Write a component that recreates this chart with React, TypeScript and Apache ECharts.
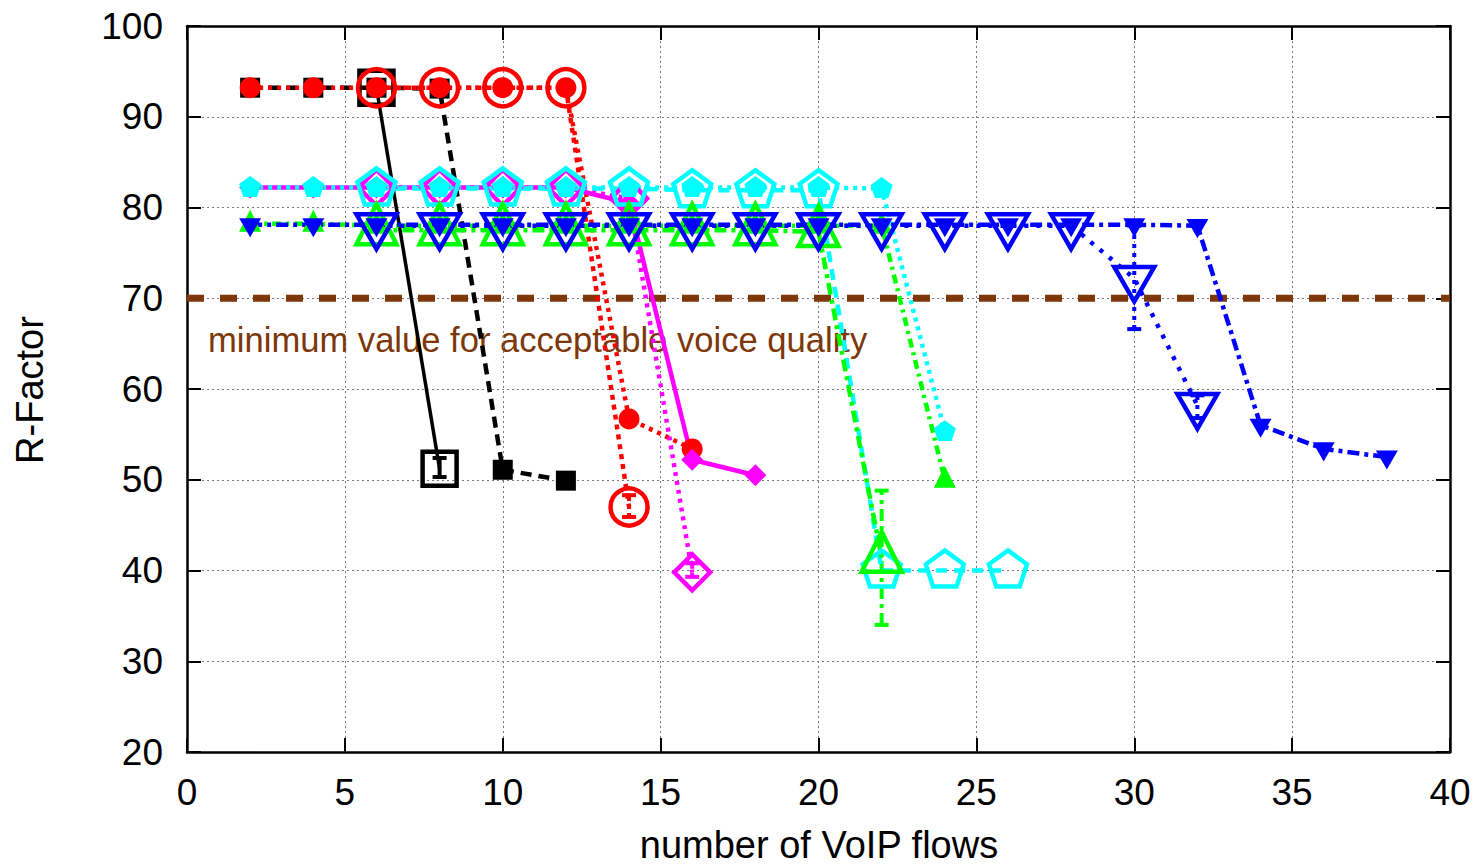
import React, { useEffect, useRef } from 'react';
import * as echarts from 'echarts';

// ---- data ----
const xMin = 0, xMax = 40, xStep = 5;
const yMin = 20, yMax = 100, yStep = 10;
const threshold = 70;
const thresholdLabel = 'minimum value for acceptable voice quality';
const xName = 'number of VoIP flows';
const yName = 'R-Factor';

const blackFilled = [[2, 93.2], [4, 93.2], [6, 93.2], [8, 93.1], [10, 51.1], [12, 49.9]];
const blackOpen = [[6, 93.2], [8, 51.2]];
const blackErr = [[8, 50.3, 52.4]];

const redFilled = [[2, 93.2], [4, 93.2], [6, 93.2], [8, 93.2], [10, 93.2], [12, 93.2], [14, 56.7], [16, 53.4]];
const redOpen = [[6, 93.2], [8, 93.2], [10, 93.2], [12, 93.2], [14, 47.0]];
const redErr = [[14, 45.9, 48.3]];

const magentaFilled = [[2, 82.2], [4, 82.2], [6, 82.2], [8, 82.2], [10, 82.2], [12, 82.2], [14, 80.5], [16, 52.2], [18, 50.5]];
const magentaOpen = [[6, 82.2], [8, 82.2], [10, 82.2], [12, 82.2], [14, 81.0], [16, 39.8]];
const magentaErr = [[16, 39.3, 40.8]];

const cyanFilled = [[2, 82.2], [4, 82.2], [6, 82.2], [8, 82.2], [10, 82.2], [12, 82.2], [14, 82.2], [16, 82.2], [18, 82.2], [20, 82.2], [22, 82.1], [24, 55.3]];
const cyanOpen = [[6, 82.1], [8, 82.1], [10, 82.1], [12, 82.1], [14, 82.1], [16, 81.9], [18, 81.9], [20, 81.9], [22, 40.0], [24, 40.0], [26, 40.0]];

const greenFilled = [[2, 78.2], [4, 78.2], [6, 78.0], [8, 78.0], [10, 78.0], [12, 78.0], [14, 78.0], [16, 78.0], [18, 78.0], [20, 78.0], [22, 78.0], [24, 50.0]];
const greenOpen = [[6, 77.5], [8, 77.5], [10, 77.5], [12, 77.5], [14, 77.5], [16, 77.5], [18, 77.5], [20, 77.3], [22, 41.4]];
const greenErr = [[22, 34.0, 48.8]];

const blueFilled = [[2, 78.1], [4, 78.1], [6, 78.1], [8, 78.1], [10, 78.1], [12, 78.1], [14, 78.1], [16, 78.1], [18, 78.1], [20, 78.1], [22, 78.1], [24, 78.1], [26, 78.1], [28, 78.1], [30, 78.1], [32, 78.0], [34, 56.0], [36, 53.4], [38, 52.5]];
const blueOpen = [[6, 78.0], [8, 78.0], [10, 78.0], [12, 78.0], [14, 78.0], [16, 78.0], [18, 78.0], [20, 78.0], [22, 78.0], [24, 78.0], [26, 78.0], [28, 78.0], [30, 72.2], [32, 58.2]];
const blueErr = [[30, 66.6, 78.0], [32, 56.8, 59.3]];

// ---- styles ----
const FONT = '"Liberation Sans", Arial, Helvetica, sans-serif';
const BROWN = '#7d3708';
const PENTAGON = 'path://M50 0 L97.55 34.55 L79.39 90.45 L20.61 90.45 L2.45 34.55 Z';
const DOWNTRI = 'path://M0 0 L100 0 L50 86.6 Z';

function lineSeries(name: string, data: number[][], color: string, dash: any, symbol: string, size: number, open: boolean, width = 4.5, offset: number[] = [0, 0]) {
  return {
    name,
    type: 'line',
    data,
    symbol,
    symbolSize: size,
    symbolOffset: offset,
    symbolKeepAspect: true,
    showSymbol: true,
    clip: false,
    lineStyle: { color, width, type: dash },
    itemStyle: open
      ? { color: 'rgba(0,0,0,0)', borderColor: color, borderWidth: 4.5 }
      : { color, borderColor: color, borderWidth: 0 },
    emphasis: { disabled: true },
    silent: true,
  };
}

function errSeries(name: string, data: number[][], color: string, dash: any) {
  return {
    name,
    type: 'custom',
    data,
    encode: { x: 0, y: [1, 2] },
    silent: true,
    renderItem: (params: any, api: any) => {
      const x = api.value(0);
      const lo = api.coord([x, api.value(1)]);
      const hi = api.coord([x, api.value(2)]);
      const cap = 7;
      const st = { stroke: color, lineWidth: 4, lineDash: dash, fill: null };
      const cs = { stroke: color, lineWidth: 4, fill: null };
      return {
        type: 'group',
        children: [
          { type: 'line', shape: { x1: lo[0], y1: lo[1], x2: hi[0], y2: hi[1] }, style: st },
          { type: 'line', shape: { x1: lo[0] - cap, y1: lo[1], x2: lo[0] + cap, y2: lo[1] }, style: cs },
          { type: 'line', shape: { x1: hi[0] - cap, y1: hi[1], x2: hi[0] + cap, y2: hi[1] }, style: cs },
        ],
      };
    },
  };
}

const DOTTED = [4, 5];
const DASHED = [11, 7];
const DASHDOT = [12, 5, 4, 5];
const DASHDOT2 = [9, 5, 3, 5];

export default function App() {
  const ref = useRef<HTMLDivElement>(null);
  useEffect(() => {
    const chart = echarts.init(ref.current!, null, { renderer: 'svg' });
    const axisLine = { show: true, onZero: false, lineStyle: { color: '#000', width: 2.5 } };
    const tick = { show: true, inside: true, length: 14, lineStyle: { color: '#000', width: 2 } };
    const split = { show: true, lineStyle: { color: '#7a7a7a', width: 1, type: [2, 3] } };
    const option: any = {
      animation: false,
      grid: { left: 187, right: 29, top: 26, bottom: 116, containLabel: false },
      xAxis: [
        {
          type: 'value', min: xMin, max: xMax, interval: xStep, position: 'bottom',
          axisLine, axisTick: tick, splitLine: split,
          axisLabel: { color: '#000', fontSize: 37, fontFamily: FONT, margin: 22 },
        },
        {
          type: 'value', min: xMin, max: xMax, interval: xStep, position: 'top',
          axisLine, axisTick: tick, splitLine: { show: false }, axisLabel: { show: false },
        },
      ],
      yAxis: [
        {
          type: 'value', min: yMin, max: yMax, interval: yStep, position: 'left',
          axisLine, axisTick: tick, splitLine: split,
          axisLabel: { color: '#000', fontSize: 37, fontFamily: FONT, margin: 24 },
        },
        {
          type: 'value', min: yMin, max: yMax, interval: yStep, position: 'right',
          axisLine, axisTick: tick, splitLine: { show: false }, axisLabel: { show: false },
        },
      ],
      graphic: [
        {
          type: 'text', x: 30, y: 390, rotation: Math.PI / 2,
          style: { text: yName, fontSize: 38, fontFamily: FONT, fill: '#000', align: 'center', verticalAlign: 'middle' },
        },
        {
          type: 'text', x: 819, y: 845,
          style: { text: xName, fontSize: 38, fontFamily: FONT, fill: '#000', align: 'center', verticalAlign: 'middle' },
        },
        {
          type: 'text', x: 208, y: 340,
          style: { text: thresholdLabel, fontSize: 34.6, fontFamily: FONT, fill: BROWN, align: 'left', verticalAlign: 'middle' },
        },
      ],
      series: [
        {
          name: 'threshold', type: 'line', data: [[xMin, threshold], [xMax, threshold]],
          showSymbol: false, symbol: 'none', silent: true,
          lineStyle: { color: BROWN, width: 7, type: [17, 16] },
        },
        lineSeries('black-filled', blackFilled, '#000000', DASHED, 'rect', 20, false),
        lineSeries('black-open', blackOpen, '#000000', 'solid', 'rect', 34, true, 3.5),
        errSeries('black-err', blackErr, '#000000', null),
        lineSeries('red-filled', redFilled, '#ff0000', DOTTED, 'circle', 21, false),
        lineSeries('red-open', redOpen, '#ff0000', [5, 5], 'circle', 37, true),
        errSeries('red-err', redErr, '#ff0000', [4, 4]),
        lineSeries('magenta-filled', magentaFilled, '#ff00ff', 'solid', 'diamond', 22, false),
        lineSeries('magenta-open', magentaOpen, '#ff00ff', DOTTED, 'diamond', 36, true),
        errSeries('magenta-err', magentaErr, '#ff00ff', [4, 4]),
        lineSeries('cyan-filled', cyanFilled, '#00ffff', DOTTED, PENTAGON, 22, false, 4.5, [0, -1]),
        lineSeries('cyan-open', cyanOpen, '#00ffff', DASHED, PENTAGON, 38, true, 4.5, [0, -2]),
        lineSeries('green-filled', greenFilled, '#00ff00', DASHDOT2, 'triangle', 22, false, 4.5, [0, -3]),
        lineSeries('green-open', greenOpen, '#00ff00', DASHDOT, 'triangle', 40, true, 4.5, [0, -6]),
        errSeries('green-err', greenErr, '#00ff00', [12, 5, 4, 5]),
        lineSeries('blue-filled', blueFilled, '#0000ff', DASHDOT, DOWNTRI, 22, false, 4.5, [0, 3]),
        lineSeries('blue-open', blueOpen, '#0000ff', [4, 8], DOWNTRI, 40, true, 4.5, [0, 6]),
        errSeries('blue-err', blueErr, '#0000ff', [4, 5]),
      ],
    };
    chart.setOption(option);
    return () => chart.dispose();
  }, []);
  return <div ref={ref} style={{ position: 'fixed', left: 0, top: 0, width: 1479, height: 868, background: '#fff' }} />;
}
